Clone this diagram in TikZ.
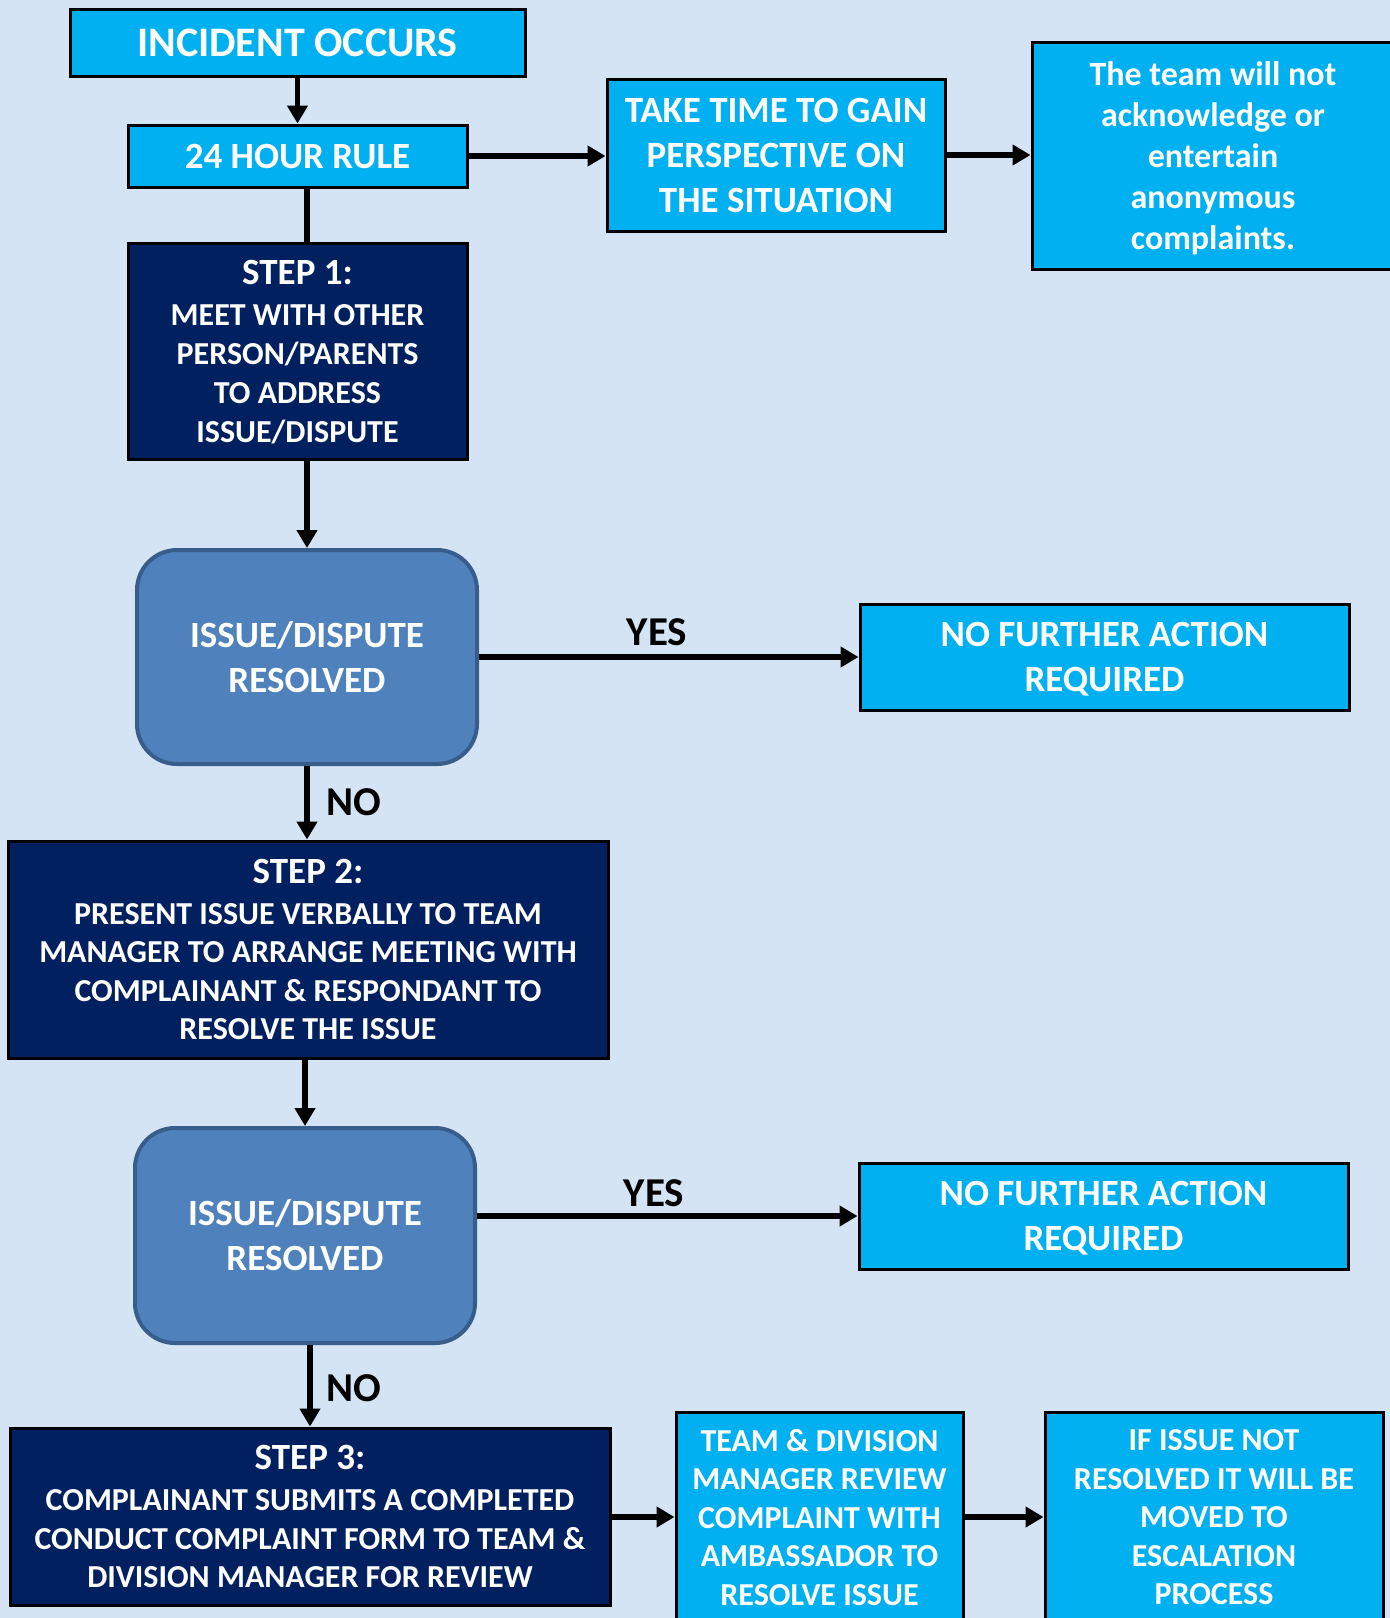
\documentclass[tikz,border=0pt]{standalone}
\usepackage{fontspec}
\setmainfont{Carlito}
\usetikzlibrary{arrows.meta,calc}
\definecolor{bgc}{RGB}{212,228,244}
\definecolor{cyanc}{RGB}{0,176,240}
\definecolor{navyc}{RGB}{0,32,96}
\definecolor{decfill}{RGB}{79,129,189}
\definecolor{decline}{RGB}{56,93,138}
\newcommand\fsz[2]{\fontsize{#1}{#2}\selectfont\bfseries}
\tikzset{
  cbox/.style={draw=black, line width=3pt, fill=cyanc, text=white, align=center, inner sep=0pt, text depth=0pt},
  nbox/.style={draw=black, line width=3pt, fill=navyc, text=white, align=center, inner sep=0pt, text depth=0pt},
  dbox/.style={draw=decline, line width=4pt, fill=decfill, text=white, align=center, inner sep=0pt, text depth=0pt, rounded corners=40pt,
     minimum width=340pt, minimum height=214pt, font=\fsz{37}{45}},
  conn/.style={line width=5.5pt, -{Triangle[length=18pt,width=20pt]}},
  plainconn/.style={line width=5.5pt},
  lbl/.style={text=black, inner sep=0pt, font=\fsz{41}{48}}
}
\begin{document}
\begin{tikzpicture}[x=1pt,y=-1pt]
\fill[bgc] (0,0) rectangle (1390,1618);
\useasboundingbox (0,0) rectangle (1390,1618);

\node[cbox, minimum width=455pt, minimum height=67pt, font=\fsz{42}{50}] (inc) at (297.5,42.5) {INCIDENT OCCURS};
\node[cbox, minimum width=339pt, minimum height=62pt, font=\fsz{37}{45}] (hr) at (297.5,156) {24 HOUR RULE};
\node[cbox, minimum width=338pt, minimum height=152pt, font=\fsz{37}{45}] (take) at (776,155) {TAKE TIME TO GAIN\\PERSPECTIVE ON\\THE SITUATION};
\node[cbox, minimum width=362pt, minimum height=227pt, font=\fsz{34}{41}] (team) at (1213,155.5) {The team will not\\acknowledge or\\entertain\\anonymous\\complaints.};
\node[nbox, minimum width=339pt, minimum height=216pt, font=\fsz{32}{39}] (s1) at (297.5,351) {{\fsz{37}{41}STEP 1:}\\[2pt]MEET WITH OTHER\\PERSON/PARENTS\\TO ADDRESS\\ISSUE/DISPUTE};
\node[dbox] (d1) at (307,657) {ISSUE/DISPUTE\\RESOLVED};
\node[cbox, minimum width=489pt, minimum height=106pt, font=\fsz{37}{45}] (nf1) at (1104.5,657) {NO FURTHER ACTION\\REQUIRED};
\node[nbox, minimum width=600pt, minimum height=217pt, font=\fsz{32}{38.5}] (s2) at (308,949.5) {{\fsz{37}{41}STEP 2:}\\[2pt]PRESENT ISSUE VERBALLY TO TEAM\\MANAGER TO ARRANGE MEETING WITH\\COMPLAINANT \& RESPONDANT TO\\RESOLVE THE ISSUE};
\node[dbox, minimum height=215pt] (d2) at (305,1235.5) {ISSUE/DISPUTE\\RESOLVED};
\node[cbox, minimum width=489pt, minimum height=106pt, font=\fsz{37}{45}] (nf2) at (1103.5,1216) {NO FURTHER ACTION\\REQUIRED};
\node[nbox, minimum width=600pt, minimum height=177pt, font=\fsz{32}{38.7}] (s3) at (310,1516.5) {{\fsz{37}{41}STEP 3:}\\[2pt]COMPLAINANT SUBMITS A COMPLETED\\CONDUCT COMPLAINT FORM TO TEAM \&\\DIVISION MANAGER FOR REVIEW};
\node[cbox, minimum width=287pt, minimum height=210pt, font=\fsz{32}{38.5}] (tdm) at (819.5,1517) {TEAM \& DIVISION\\MANAGER REVIEW\\COMPLAINT WITH\\AMBASSADOR TO\\RESOLVE ISSUE};
\node[cbox, minimum width=338pt, minimum height=210pt, font=\fsz{32}{38.5}] (esc) at (1214,1517) {IF ISSUE NOT\\RESOLVED IT WILL BE\\MOVED TO\\ESCALATION\\PROCESS};

% connectors
\draw[conn] (inc.south) -- (hr.north);
\draw[plainconn] (hr.south -| d1) -- (s1.north -| d1);
\draw[conn] (hr.east) -- (hr.east -| take.west);
\draw[conn] (take.east) -- (take.east -| team.west);
\draw[conn] (s1.south -| d1) -- (d1.north);
\draw[conn] (d1.east) -- (nf1.west);
\draw[conn] (d1.south) -- (s2.north -| d1);
\draw[conn] (s2.south -| d2) -- (d2.north);
\draw[conn] (nf2.west -| d2.east) -- (nf2.west);
\draw[conn] (d2.south -| s3) -- (s3.north);
\draw[conn] (s3.east |- tdm) -- (tdm.west);
\draw[conn] (tdm.east) -- (esc.west);

% labels
\node[lbl] (yes1) at (657,632) {YES};
\node[lbl] (no1) at (354,802) {NO};
\node[lbl] (yes2) at (654,1193) {YES};
\node[lbl] (no2) at (354,1388) {NO};
\end{tikzpicture}
\end{document}
